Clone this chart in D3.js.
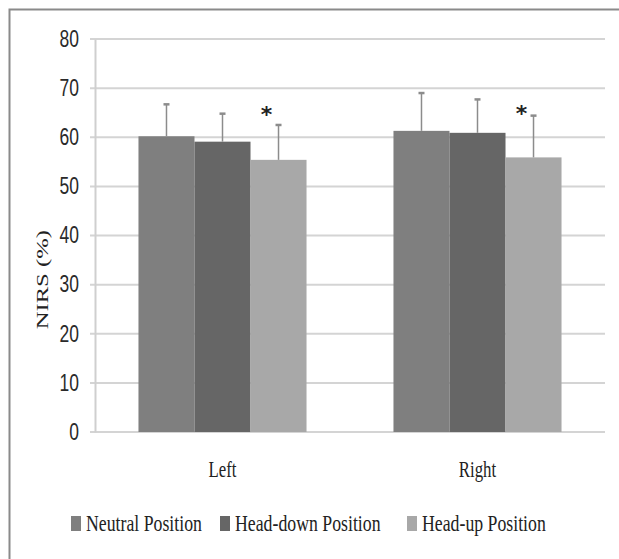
<!DOCTYPE html>
<html>
<head>
<meta charset="utf-8">
<script src="https://cdn.jsdelivr.net/npm/d3@7"></script>
<style>
  body { margin: 0; background: #fff; }
</style>
</head>
<body>
<div id="chart"></div>
<script>
// Chart data
const sides = ["Left", "Right"];
const positions = ["Neutral Position", "Head-down Position", "Head-up Position"];
const means = {
    "Neutral Position":   [60.2, 61.3],
    "Head-down Position": [59.1, 60.9],
    "Head-up Position":   [55.4, 55.9]
};
const sds = {
    "Neutral Position":   [6.5, 7.7],
    "Head-down Position": [5.7, 6.8],
    "Head-up Position":   [7.1, 8.5]
};
// significance marks (* over head-up bars), level in % units
const starLevel = [65.6, 65.8];
const yTicks = [0, 10, 20, 30, 40, 50, 60, 70, 80];

const colors = {
    "Neutral Position": "#7f7f7f",
    "Head-down Position": "#666666",
    "Head-up Position": "#a8a8a8"
};

const serif = "'Liberation Serif', 'DejaVu Serif', serif";
const sans = "'Liberation Sans', Arial, sans-serif";

let width = 619, height = 559;
let margin = {top: 39, right: 14, bottom: 127, left: 95};

let svg = d3.select("#chart")
    .append("svg")
    .attr("width", width)
    .attr("height", height);

// Outer frame (left and top edges visible)
svg.append("path")
    .attr("d", `M9.5,${height} V9.5 H${width}`)
    .attr("fill", "none")
    .attr("stroke", "#8a8a8a")
    .attr("stroke-width", 2);

let x0 = d3.scaleBand()
    .domain(sides)
    .range([margin.left, width - margin.right])
    .paddingInner(0.341)
    .paddingOuter(0.1705);

let x1 = d3.scaleBand()
    .domain(positions)
    .range([0, x0.bandwidth()]);

let y = d3.scaleLinear()
    .domain([0, 80])
    .range([height - margin.bottom, margin.top]);

// Gridlines
svg.append("g")
    .selectAll("line")
    .data(yTicks)
    .enter().append("line")
    .attr("x1", margin.left - 5)
    .attr("x2", width - margin.right)
    .attr("y1", d => y(d))
    .attr("y2", d => y(d))
    .attr("stroke", "#d4d4d4")
    .attr("stroke-width", 2);

// Y axis (labels squeezed horizontally like the original)
let tickSx = 0.76;
let yAxis = svg.append("g")
    .attr("transform", `translate(${margin.left},0)`)
    .call(d3.axisLeft(y).tickValues(yTicks).tickSize(0));
yAxis.select(".domain").attr("stroke", "#cfcfcf").attr("stroke-width", 2);
yAxis.selectAll(".tick text")
    .attr("x", -16 / tickSx)
    .attr("transform", `scale(${tickSx},1)`)
    .style("font-family", sans)
    .attr("font-size", 23)
    .attr("fill", "#2a2a2a");

// Y axis title
svg.append("text")
    .attr("transform", `translate(48, ${y(31)}) rotate(-90) scale(1.45,1)`)
    .attr("text-anchor", "middle")
    .style("font-family", serif)
    .style("font-size", "17px")
    .attr("fill", "#222")
    .text("NIRS (%)");

// Bars
let groups = svg.append("g")
    .selectAll("g")
    .data(sides)
    .enter().append("g")
    .attr("transform", d => `translate(${x0(d)},0)`);

let barData = (side, i) => positions.map(p => ({pos: p, mean: means[p][i], sd: sds[p][i]}));

groups.each(function(side, i) {
    let g = d3.select(this);
    let rows = barData(side, i);

    g.selectAll("rect")
        .data(rows)
        .enter().append("rect")
        .attr("x", d => x1(d.pos))
        .attr("y", d => y(d.mean))
        .attr("width", x1.bandwidth())
        .attr("height", d => y(0) - y(d.mean))
        .attr("fill", d => colors[d.pos]);

    // Error bars (upper only)
    let eb = g.selectAll(".err")
        .data(rows)
        .enter().append("g")
        .attr("class", "err")
        .attr("stroke", "#8c8c8c")
        .attr("stroke-width", 1.5);
    eb.append("line")
        .attr("x1", d => x1(d.pos) + x1.bandwidth() / 2)
        .attr("x2", d => x1(d.pos) + x1.bandwidth() / 2)
        .attr("y1", d => y(d.mean))
        .attr("y2", d => y(d.mean + d.sd));
    eb.append("line")
        .attr("x1", d => x1(d.pos) + x1.bandwidth() / 2 - 3)
        .attr("x2", d => x1(d.pos) + x1.bandwidth() / 2 + 3)
        .attr("y1", d => y(d.mean + d.sd))
        .attr("y2", d => y(d.mean + d.sd))
        .attr("stroke-width", 2.5);

    // Asterisk
    g.append("text")
        .attr("x", x1("Head-up Position") + x1.bandwidth() / 2 - 12)
        .attr("y", y(starLevel[i]) + 12)
        .attr("text-anchor", "middle")
        .style("font-family", "'DejaVu Sans', sans-serif")
        .style("font-size", "22px")
        .style("font-weight", "bold")
        .attr("fill", "#222")
        .text("*");
});

// Category labels
let labelSx = 0.7;
svg.append("g")
    .selectAll("text")
    .data(sides)
    .enter().append("text")
    .attr("transform", d => `translate(${x0(d) + x0.bandwidth() / 2}, ${y(0) + 45}) scale(${labelSx},1)`)
    .attr("text-anchor", "middle")
    .style("font-family", serif)
    .style("font-size", "24px")
    .attr("fill", "#222")
    .text(d => d);

// Legend
let legendX = [71, 220, 407];
let legendSx = 0.74;
let legend = svg.append("g")
    .selectAll("g")
    .data(positions)
    .enter().append("g")
    .attr("transform", (d, i) => `translate(${legendX[i]}, 531)`);
legend.append("rect")
    .attr("x", 0)
    .attr("y", -15)
    .attr("width", 10)
    .attr("height", 15)
    .attr("fill", d => colors[d]);
legend.append("text")
    .attr("transform", `translate(15,0) scale(${legendSx},1)`)
    .style("font-family", serif)
    .style("font-size", "24px")
    .attr("fill", "#222")
    .text(d => d);
</script>
</body>
</html>
